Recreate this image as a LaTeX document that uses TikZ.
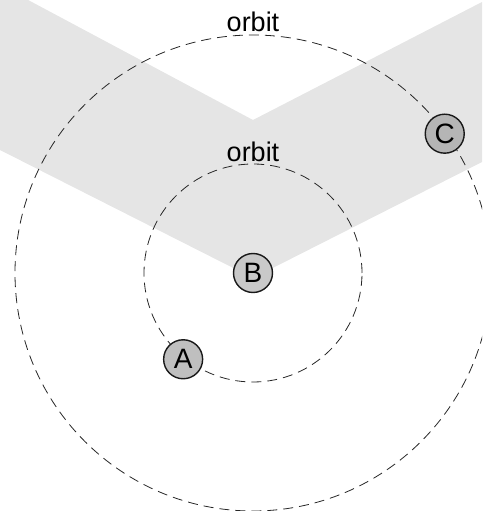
\documentclass[tikz,border=0pt]{standalone}
\usepackage{fontspec}
\setmainfont{Liberation Sans}
\usetikzlibrary{positioning,calc}

\begin{document}
\begin{tikzpicture}[
    x=1pt, y=1pt,
    orbitline/.style={draw=black!85, line width=0.8pt, dash pattern=on 10pt off 6pt},
    body/.style={circle, draw=black!90, line width=1.4pt, fill=gray!50, minimum size=39pt, inner sep=0pt, font=\fontsize{28}{28}\selectfont},
    tag/.style={inner sep=0pt, font=\fontsize{27}{27}\selectfont}
]
    \useasboundingbox (-253,-238) rectangle (229,273);
    \clip (-253,-238) rectangle (229,273);
    % light band behind the drawing
    \fill[gray!20] (-253,288) -- (0,153) -- (229,271) -- (229,111) -- (0,-5) -- (-253,123) -- cycle;

    \coordinate (hub) at (0,0);
    \draw[orbitline] (hub) circle[radius=109];
    \draw[orbitline] (hub) circle[radius=238];

    \coordinate (innertop) at (90:109);
    \coordinate (outertop) at (90:238);
    \node[tag, above=2pt of innertop] (innerlabel) {orbit};
    \node[tag, above=3pt of outertop] (outerlabel) {orbit};

    \node[body, fill=gray!42] (B) at (hub) {B};
    \node[body] (A) at (231:111) {A};
    \node[body, fill=gray!58] (C) at (36:237) {C};
\end{tikzpicture}
\end{document}
